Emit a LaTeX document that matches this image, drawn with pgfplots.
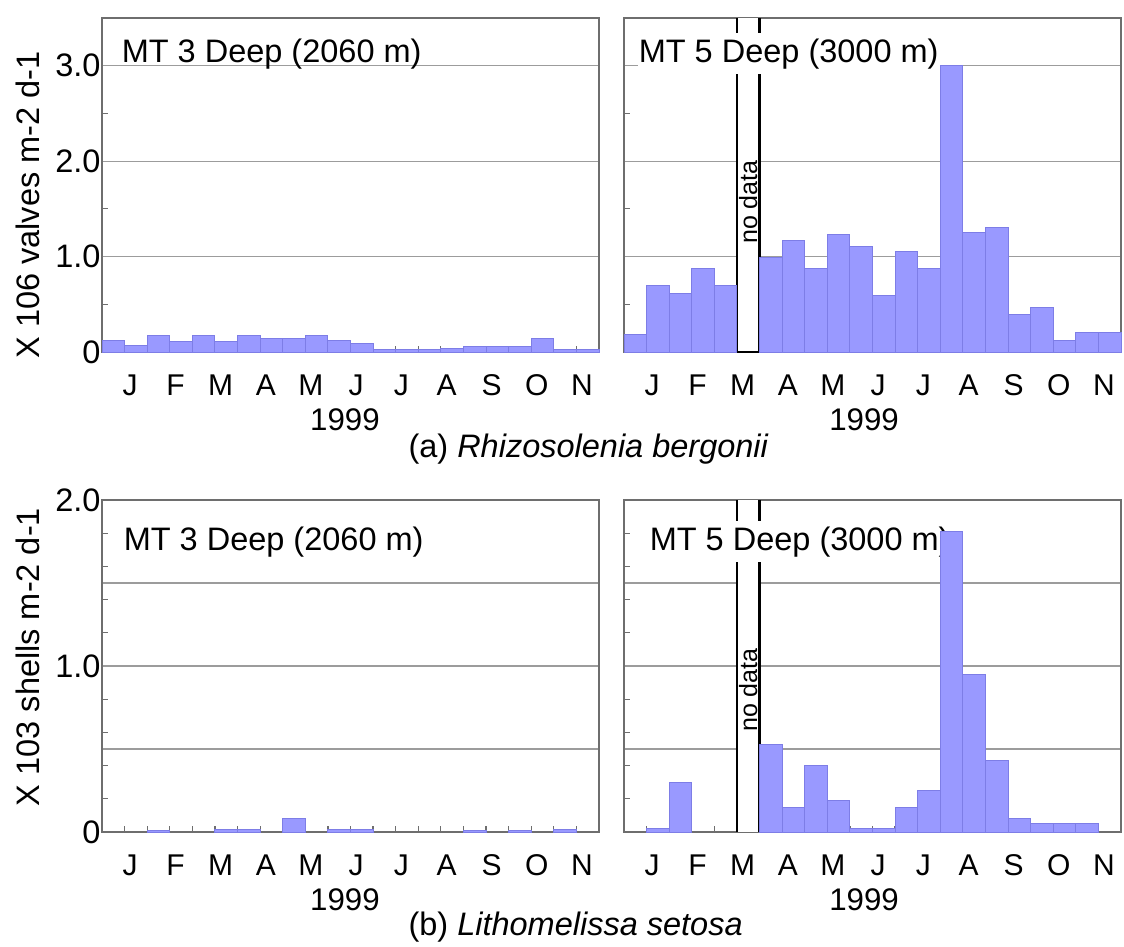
\documentclass[border=0pt]{standalone}
\usepackage{pgfplots}
\pgfplotsset{compat=1.18}
\usepackage{fontspec}
\setmainfont{Liberation Sans}
\definecolor{barfill}{HTML}{9999FF}
\definecolor{baredge}{HTML}{7D7DE6}
\definecolor{framec}{HTML}{6E6E6E}
\definecolor{gridc}{HTML}{9C9C9C}

\pgfplotsset{
  panel/.style={
    scale only axis, width=198.8pt,
    xmin=0, xmax=22, ymin=0,
    tick pos=left, tick align=inside,
    xtick={1.25,3.25,5.25,7.25,9.25,11.25,13.25,15.25,17.25,19.25,21.25},
    xticklabels={J,F,M,A,M,J,J,A,S,O,N},
    minor xtick={1,2,...,21},
    major tick length=0pt, minor tick length=2.4pt,
    minor tick style={draw=framec, line width=0.5pt},
    ymajorgrids, grid style={draw=gridc, line width=0.5pt},
    axis line style={draw=framec, line width=0.9pt},
    xticklabel style={font=\fontsize{12}{12}\selectfont, inner sep=0pt, anchor=base, yshift=-17.2pt},
    yticklabel style={font=\fontsize{13}{13}\selectfont, inner sep=0pt, anchor=east, xshift=-0.4pt},
    clip=false,
  },
  bars/.style={ybar, bar width=1, bar shift=0pt, fill=barfill, draw=baredge, line width=0.4pt},
}
\tikzset{
  ttl/.style={anchor=base west, inner xsep=0.5pt, inner ysep=2pt, font=\fontsize{13}{13}\selectfont},
  nodata/.style={rotate=90, inner sep=0pt, font=\fontsize{10}{10}\selectfont},
}

\begin{document}
\begin{tikzpicture}
% (a) Rhizosolenia bergonii, MT 3
\begin{axis}[panel, at={(40.8pt,-140.8pt)}, anchor=south west, height=133.6pt,
  ymax=3.5, ytick={0,1,2,3}, yticklabels={0,1.0,2.0,3.0}, minor ytick={0.5,1.5,2.5}]
\node[ttl, xshift=7.2pt, yshift=-17.6pt] at (rel axis cs:0,1) {MT 3 Deep (2060 m)};
\addplot[bars] coordinates {(0.5,0.12) (1.5,0.07) (2.5,0.175) (3.5,0.105) (4.5,0.175) (5.5,0.105)
  (6.5,0.175) (7.5,0.14) (8.5,0.14) (9.5,0.175) (10.5,0.12) (11.5,0.09) (12.5,0.025) (13.5,0.025)
  (14.5,0.025) (15.5,0.035) (16.5,0.06) (17.5,0.06) (18.5,0.06) (19.5,0.14) (20.5,0.025) (21.5,0.025)};
\end{axis}
% (a) MT 5
\begin{axis}[panel, at={(249.6pt,-140.8pt)}, anchor=south west, height=133.6pt,
  ymax=3.5, ytick={0,1,2,3}, yticklabels={,,,}, minor ytick={0.5,1.5,2.5}]
\fill[white] (axis cs:5,0) rectangle (axis cs:6,3.5);
\draw[black, line width=1.1pt] (axis cs:5,3.5) -- (axis cs:5,0) -- (axis cs:6,0) -- (axis cs:6,3.5);
\node[nodata] at (axis cs:5.5,1.57) {no data};
\node[ttl, fill=white, xshift=5.2pt, yshift=-17.6pt] at (rel axis cs:0,1) {MT 5 Deep (3000 m)};
\addplot[bars] coordinates {(0.5,0.18) (1.5,0.70) (2.5,0.61) (3.5,0.88) (4.5,0.70)
  (6.5,0.99) (7.5,1.17) (8.5,0.88) (9.5,1.23) (10.5,1.11) (11.5,0.59) (12.5,1.05) (13.5,0.88)
  (14.5,3.0) (15.5,1.25) (16.5,1.31) (17.5,0.39) (18.5,0.47) (19.5,0.12) (20.5,0.20) (21.5,0.20)};
\end{axis}
% (b) Lithomelissa setosa, MT 3
\begin{axis}[panel, at={(40.8pt,-332.8pt)}, anchor=south west, height=132.8pt,
  ymax=2, ytick={0,0.5,1,1.5,2}, yticklabels={0,,1.0,,2.0},
  minor ytick={0.2,0.4,0.6,0.8,1.2,1.4,1.6,1.8}]
\node[ttl, xshift=8pt, yshift=-20pt] at (rel axis cs:0,1) {MT 3 Deep (2060 m)};
\addplot[bars] coordinates {(2.5,0.012) (5.5,0.018) (6.5,0.018) (8.5,0.08) (10.5,0.015)
  (11.5,0.018) (16.5,0.012) (18.5,0.012) (20.5,0.018)};
\end{axis}
% (b) MT 5
\begin{axis}[panel, at={(249.6pt,-332.8pt)}, anchor=south west, height=132.8pt,
  ymax=2, ytick={0,0.5,1,1.5,2}, yticklabels={,,,,},
  minor ytick={0.2,0.4,0.6,0.8,1.2,1.4,1.6,1.8}]
\fill[white] (axis cs:5,0) rectangle (axis cs:6,2);
\draw[black, line width=1.1pt] (axis cs:5,2) -- (axis cs:5,0);
\draw[black, line width=1.1pt] (axis cs:6,2) -- (axis cs:6,0);
\node[nodata] at (axis cs:5.5,0.855) {no data};
\node[ttl, fill=white, xshift=9.6pt, yshift=-20pt] at (rel axis cs:0,1) {MT 5 Deep (3000 m)};
\addplot[bars] coordinates {(1.5,0.02) (2.5,0.30) (6.5,0.53) (7.5,0.15) (8.5,0.40) (9.5,0.19)
  (10.5,0.02) (11.5,0.02) (12.5,0.15) (13.5,0.25) (14.5,1.81) (15.5,0.95) (16.5,0.43)
  (17.5,0.08) (18.5,0.05) (19.5,0.05) (20.5,0.05)};
\end{axis}
% outer labels
\node[rotate=90, inner sep=0pt, font=\fontsize{13}{13}\selectfont] at (11.2pt,-82pt) {X 106 valves m-2 d-1};
\node[rotate=90, inner sep=0pt, font=\fontsize{13}{13}\selectfont] at (11.2pt,-262.8pt) {X 103 shells m-2 d-1};
\node[anchor=base, inner sep=0pt, font=\fontsize{12.5}{12.5}\selectfont] at (138pt,-172pt) {1999};
\node[anchor=base, inner sep=0pt, font=\fontsize{12.5}{12.5}\selectfont] at (345.6pt,-172pt) {1999};
\node[anchor=base, inner sep=0pt, font=\fontsize{12.5}{12.5}\selectfont] at (138pt,-364pt) {1999};
\node[anchor=base, inner sep=0pt, font=\fontsize{12.5}{12.5}\selectfont] at (345.6pt,-364pt) {1999};
\node[anchor=base west, inner sep=0pt, font=\fontsize{13}{13}\selectfont] at (163.2pt,-182.8pt) {(a) \textit{Rhizosolenia bergonii}};
\node[anchor=base west, inner sep=0pt, font=\fontsize{13}{13}\selectfont] at (163.2pt,-374pt) {(b) \textit{Lithomelissa setosa}};
\pgfresetboundingbox
\useasboundingbox (0,0) rectangle (449.6pt,-378.4pt);
\end{tikzpicture}
\end{document}
